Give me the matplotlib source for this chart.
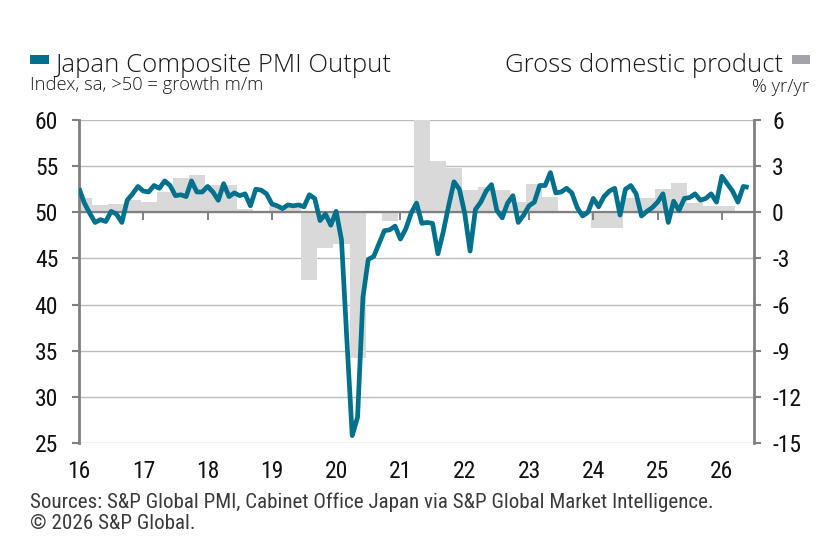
import numpy as np
import matplotlib
matplotlib.use("Agg")
import matplotlib.pyplot as plt
from matplotlib.patches import Rectangle
from matplotlib import markers
from matplotlib import font_manager as fm

# ---------------- data ----------------
# Japan Composite PMI Output, monthly Jan 2016 - Jun 2026
pmi_2016 = [52.6, 51.0, 49.9, 48.9, 49.2, 49.0, 50.1, 49.8, 48.9, 51.3, 52.0, 52.8]
pmi_2017 = [52.3, 52.2, 52.9, 52.6, 53.4, 52.9, 51.8, 51.9, 51.7, 53.4, 52.2, 52.2]
pmi_2018 = [52.8, 52.2, 51.3, 53.1, 51.7, 52.1, 51.8, 52.0, 50.7, 52.5, 52.4, 52.0]
pmi_2019 = [50.9, 50.7, 50.4, 50.8, 50.7, 50.8, 50.6, 51.9, 51.5, 49.1, 49.8, 48.6]
pmi_2020 = [50.1, 47.0, 36.2, 25.8, 27.8, 40.8, 44.9, 45.2, 46.6, 48.0, 48.1, 48.5]
pmi_2021 = [47.1, 48.2, 49.9, 51.0, 48.8, 48.9, 48.8, 45.5, 47.9, 50.7, 53.3, 52.5]
pmi_2022 = [49.9, 45.8, 50.3, 51.1, 52.3, 53.0, 50.2, 49.4, 51.0, 51.8, 48.9, 49.7]
pmi_2023 = [50.7, 51.1, 52.9, 52.9, 54.3, 52.1, 52.2, 52.6, 52.1, 50.5, 49.6, 50.0]
pmi_2024 = [51.5, 50.6, 51.7, 52.3, 52.6, 49.7, 52.5, 52.9, 52.0, 49.6, 50.1, 50.5]
pmi_2025 = [51.1, 52.0, 48.9, 51.2, 50.2, 51.5, 51.6, 52.0, 51.3, 51.5, 52.0, 51.1]
pmi_2026 = [53.9, 53.1, 52.3, 51.1, 52.8, 52.7]

# Gross domestic product, % yr/yr, quarterly Q1 2016 - Q1 2026
gdp_2016 = [0.9, 0.5, 0.55, 0.8]
gdp_2017 = [0.7, 1.3, 2.25, 2.4]
gdp_2018 = [1.8, 1.8, 0.2, 0.05]
gdp_2019 = [0.4, 0.35, -4.4, -2.3]
gdp_2020 = [-2.05, -9.5, 0.0, -0.55]
gdp_2021 = [0.0, 7.5, 3.36, 2.9]
gdp_2022 = [1.45, 1.67, 1.45, 0.69]
gdp_2023 = [1.85, 1.0, 0.0, 0.0]
gdp_2024 = [-1.04, -1.04, 0.9, 0.9]
gdp_2025 = [1.5, 1.89, 0.58, 0.41]
gdp_2026 = [0.41]

year_ticks = list(range(2016, 2027))
year_labels = ["16", "17", "18", "19", "20", "21", "22", "23", "24", "25", "26"]
left_ticks = [25, 30, 35, 40, 45, 50, 55, 60]
right_ticks = [-15, -12, -9, -6, -3, 0, 3, 6]

pmi = np.array(pmi_2016 + pmi_2017 + pmi_2018 + pmi_2019 + pmi_2020 + pmi_2021 +
               pmi_2022 + pmi_2023 + pmi_2024 + pmi_2025 + pmi_2026)
gdp = np.array(gdp_2016 + gdp_2017 + gdp_2018 + gdp_2019 + gdp_2020 + gdp_2021 +
               gdp_2022 + gdp_2023 + gdp_2024 + gdp_2025 + gdp_2026)
pmi_x = 2016 + np.arange(len(pmi)) / 12.0
gdp_x = 2016 + (3 * np.arange(len(gdp)) + 1) / 12.0

# ---------------- fonts ----------------
def _is_regular(f):
    return f.style == "normal" and f.weight in (400, "normal", "regular", "book")

def find_narrow():
    pref = ["Liberation Sans Narrow", "Arial Narrow", "Roboto Condensed",
            "Open Sans Condensed", "DejaVu Sans Condensed", "Noto Sans Condensed"]
    fl = fm.fontManager.ttflist
    for p in pref:
        for f in fl:
            if f.name == p and _is_regular(f):
                return fm.FontProperties(fname=f.fname)
    for f in fl:
        if ("Narrow" in f.name or "Condensed" in f.name or
                str(f.stretch) in ("condensed", "semi-condensed")) and _is_regular(f):
            return fm.FontProperties(fname=f.fname)
    return None

narrow = find_narrow()

def nprop(size):
    if narrow is not None:
        p = narrow.copy()
        p.set_size(size)
        return p
    return fm.FontProperties(family=["Liberation Sans", "DejaVu Sans"], size=size * 0.85)

TITLEFAM = ["Open Sans", "Roboto", "DejaVu Sans"]

# ---------------- style ----------------
TEAL = "#00718c"
BAR = "#d9d9d9"
BARKEY = "#a3a3a8"
GRID = "#bdbdbd"
AXC = "#808080"

W, H = 837, 552
fig = plt.figure(figsize=(W / 100, H / 100), dpi=100)
L, R, T, B = 79, 754, 120, 443
ax = fig.add_axes([L / W, 1 - B / H, (R - L) / W, (B - T) / H])
ax2 = ax.twinx()

# bars (right axis)
ax2.bar(gdp_x, gdp, width=0.25, color=BAR, linewidth=0, zorder=2)
ax2.set_ylim(-15, 6)
ax2.set_yticks(right_ticks)
ax2.set_yticklabels([str(v) for v in right_ticks], fontproperties=nprop(17))
ax2.set_axisbelow(True)
ax2.grid(axis="y", color=GRID, linewidth=1)
ax2.tick_params(axis="y", length=5, width=1.5, color=AXC, pad=8, labelcolor="#111111")

# PMI line (left axis), on top
ax.set_zorder(ax2.get_zorder() + 1)
ax.patch.set_visible(False)
ax.axhline(50, color=AXC, linewidth=1.6, zorder=3)
ax.plot(year_ticks, np.full(len(year_ticks), 50.0), linestyle="none",
        marker=markers.TICKDOWN, markersize=6, markeredgewidth=1.4, color=AXC, zorder=3)
ax.plot(pmi_x, pmi, color=TEAL, linewidth=3.4, solid_joinstyle="round",
        solid_capstyle="butt", zorder=5)
ax.set_ylim(25, 60)
ax.set_xlim(2016, 2026.5)
ax.set_yticks(left_ticks)
ax.set_yticklabels([str(v) for v in left_ticks], fontproperties=nprop(17))
ax.set_xticks(year_ticks)
ax.set_xticklabels(year_labels, fontproperties=nprop(17))
ax.tick_params(axis="y", length=5, width=1.5, color=AXC, pad=10, labelcolor="#111111")
ax.tick_params(axis="x", length=0, pad=12, labelcolor="#111111")

for a in (ax, ax2):
    for s in ("top", "bottom"):
        a.spines[s].set_visible(False)
ax.spines["right"].set_visible(False)
ax2.spines["left"].set_visible(False)
ax.spines["left"].set_color(AXC)
ax.spines["left"].set_linewidth(2)
ax2.spines["right"].set_color(AXC)
ax2.spines["right"].set_linewidth(2)

# ---------------- header / legend ----------------
def fx(px):
    return px / W

def fy(py):
    return 1 - py / H

fig.patches.append(Rectangle((fx(30), fy(63.5)), 19 / W, 9 / H, transform=fig.transFigure,
                             facecolor=TEAL, edgecolor="none"))
fig.patches.append(Rectangle((fx(792.5), fy(64)), 17.5 / W, 9 / H, transform=fig.transFigure,
                             facecolor=BARKEY, edgecolor="none"))
fig.text(fx(55), fy(71.5), "Japan Composite PMI Output", fontfamily=TITLEFAM, fontweight="light",
         fontsize=18.5, color="#1a1a1a", va="baseline", ha="left")
fig.text(fx(30), fy(89.5), "Index, sa, >50 = growth m/m", fontfamily=TITLEFAM, fontweight="light",
         fontsize=13.2, color="#1a1a1a", va="baseline", ha="left")
fig.text(fx(783), fy(71.5), "Gross domestic product", fontfamily=TITLEFAM, fontweight="light",
         fontsize=18.5, color="#1a1a1a", va="baseline", ha="right")
fig.text(fx(809), fy(92), "% yr/yr", fontfamily=TITLEFAM, fontweight="light",
         fontsize=13.2, color="#1a1a1a", va="baseline", ha="right")

fig.text(fx(30), fy(508), "Sources: S&P Global PMI, Cabinet Office Japan via S&P Global Market Intelligence.",
         fontproperties=nprop(15.1), color="#3a3a3a", va="baseline", ha="left")
fig.text(fx(30), fy(529), "\u00a9 2026 S&P Global.",
         fontproperties=nprop(15.1), color="#3a3a3a", va="baseline", ha="left")

fig.savefig("out.png", dpi=100, facecolor="white")
